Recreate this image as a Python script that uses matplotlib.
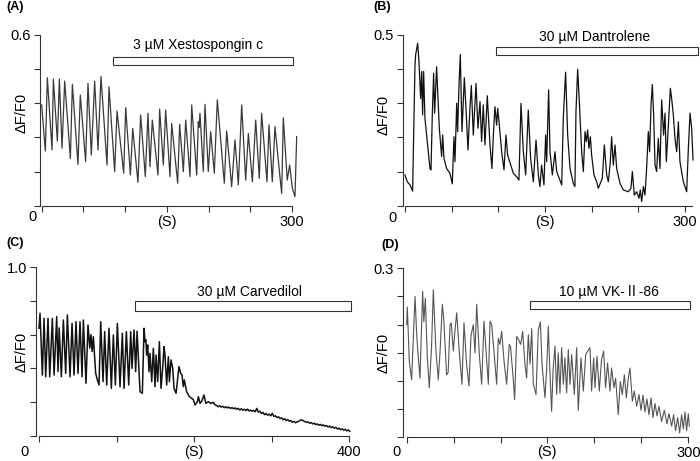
import matplotlib.pyplot as plt
from matplotlib.patches import Rectangle

plt.rcParams['font.family'] = ['Liberation Sans', 'Noto Sans CJK SC', 'DejaVu Sans']

# (time s, dF/F0): peaks, troughs and shoulders
trace_a = [
    (0, 0.354), (4.4, 0.192), (6.8, 0.450), (12.4, 0.196), (14.0, 0.445), (18.8, 0.227),
    (21.2, 0.445), (24.4, 0.202), (27.6, 0.438), (34.4, 0.166), (36.8, 0.427), (43.5, 0.145),
    (46.3, 0.389), (52.7, 0.155), (55.5, 0.430), (59.5, 0.178), (63.5, 0.438), (67.5, 0.196),
    (71.1, 0.454), (78.3, 0.143), (80.7, 0.418), (87.5, 0.120), (90.3, 0.333), (98.3, 0.114),
    (100.7, 0.345), (106.3, 0.108), (109.1, 0.272), (115.4, 0.082), (118.6, 0.319), (124.2, 0.102),
    (127.4, 0.325), (129.8, 0.137), (132.6, 0.301), (139.4, 0.108), (141.4, 0.340), (145.8, 0.143),
    (148.6, 0.336), (153.8, 0.102), (155.8, 0.289), (163.0, 0.079), (165.4, 0.286), (169.8, 0.120),
    (172.6, 0.301), (177.8, 0.102), (179.8, 0.354), (185.8, 0.108), (187.7, 0.295), (188.6, 0.275),
    (189.7, 0.325), (193.7, 0.120), (195.7, 0.356), (199.7, 0.120), (202.5, 0.260), (206.9, 0.114),
    (210.5, 0.372), (218.9, 0.079), (221.7, 0.263), (227.7, 0.067), (231.7, 0.231), (235.7, 0.073),
    (239.7, 0.354), (244.5, 0.090), (247.7, 0.254), (252.5, 0.084), (256.5, 0.301), (260.8, 0.096),
    (263.6, 0.325), (270.0, 0.084), (272.4, 0.284), (276.4, 0.084), (279.6, 0.278), (287.6, 0.043),
    (289.6, 0.309), (294.3, 0.090), (297.2, 0.143), (300.5, 0.060), (303.6, 0.032), (305.6, 0.243),
]

trace_b = [
    (0, 0.090), (2.5, 0.070), (5.4, 0.061), (8.2, 0.043), (10.7, 0.407), (11.4, 0.441),
    (13.6, 0.476), (15.0, 0.422), (16.8, 0.314), (17.9, 0.393), (18.9, 0.266), (20.0, 0.393),
    (21.4, 0.256), (26.8, 0.109), (27.9, 0.105), (29.3, 0.266), (30.7, 0.388), (31.8, 0.271),
    (33.9, 0.407), (36.8, 0.227), (39.3, 0.144), (40.4, 0.207), (41.8, 0.139), (44.6, 0.109),
    (48.2, 0.095), (50.7, 0.064), (52.5, 0.202), (53.6, 0.129), (55.4, 0.300), (56.4, 0.217),
    (57.9, 0.354), (59.3, 0.443), (61.1, 0.217), (63.6, 0.375), (65.4, 0.285), (67.5, 0.163),
    (69.6, 0.285), (71.1, 0.352), (73.2, 0.207), (76.1, 0.358), (78.2, 0.227), (80.4, 0.305),
    (82.1, 0.188), (83.9, 0.295), (85.7, 0.178), (88.2, 0.322), (91.1, 0.178), (93.2, 0.109),
    (94.6, 0.202), (96.4, 0.290), (98.2, 0.236), (99.3, 0.285), (101.1, 0.236), (103.6, 0.158),
    (106.1, 0.105), (108.2, 0.207), (110.0, 0.148), (116.1, 0.095), (119.6, 0.085), (122.1, 0.075),
    (124.3, 0.300), (126.8, 0.158), (129.3, 0.090), (132.1, 0.280), (134.6, 0.139), (137.5, 0.070),
    (140.4, 0.192), (142.9, 0.090), (144.6, 0.056), (146.4, 0.119), (148.9, 0.061), (150.7, 0.207),
    (151.8, 0.129), (153.9, 0.339), (155.4, 0.158), (157.9, 0.090), (160.7, 0.158), (162.5, 0.100),
    (167.9, 0.061), (169.6, 0.256), (172.1, 0.391), (174.3, 0.207), (176.8, 0.109), (180.4, 0.065),
    (182.1, 0.056), (183.2, 0.275), (185.0, 0.400), (186.8, 0.305), (189.3, 0.158), (191.1, 0.100),
    (192.9, 0.217), (194.3, 0.188), (195.7, 0.222), (197.1, 0.168), (198.6, 0.202), (200.0, 0.148),
    (202.5, 0.090), (205.4, 0.070), (207.1, 0.051), (211.4, 0.080), (213.6, 0.178), (216.1, 0.090),
    (217.9, 0.070), (220.0, 0.129), (221.4, 0.202), (223.2, 0.119), (225.0, 0.178), (226.8, 0.109),
    (230.4, 0.065), (233.9, 0.046), (239.3, 0.041), (242.1, 0.051), (243.6, 0.100), (245.7, 0.031),
    (248.2, 0.041), (250.7, 0.022), (252.1, 0.046), (253.6, 0.012), (255.4, 0.056), (257.1, 0.031),
    (258.9, 0.109), (260.7, 0.217), (262.1, 0.158), (263.6, 0.295), (265.0, 0.355), (266.4, 0.266),
    (267.9, 0.119), (269.6, 0.100), (271.4, 0.197), (273.2, 0.109), (275.0, 0.310), (277.1, 0.207),
    (278.6, 0.271), (280.0, 0.129), (282.1, 0.231), (284.3, 0.344), (285.7, 0.314), (287.5, 0.266),
    (289.3, 0.197), (291.1, 0.158), (292.9, 0.246), (294.6, 0.129), (298.2, 0.070), (301.8, 0.041),
    (303.6, 0.168), (305.4, 0.271), (307.1, 0.227), (308.6, 0.134),
]

trace_c = [
    (0, 0.638), (1.3, 0.727), (4.3, 0.360), (6.5, 0.697), (8.6, 0.350), (11.6, 0.697),
    (13.8, 0.350), (17.2, 0.697), (19.4, 0.360), (22.8, 0.707), (24.5, 0.380), (26.0, 0.640),
    (28.8, 0.350), (31.4, 0.687), (34.4, 0.370), (36.6, 0.717), (40.0, 0.350), (42.6, 0.667),
    (45.2, 0.360), (47.7, 0.677), (50.3, 0.370), (52.9, 0.677), (55.5, 0.350), (57.2, 0.687),
    (60.6, 0.311), (63.2, 0.657), (65.5, 0.520), (67.0, 0.600), (68.5, 0.500), (70.1, 0.588),
    (73.1, 0.370), (75.3, 0.331), (77.4, 0.301), (79.6, 0.677), (82.6, 0.321), (84.7, 0.618),
    (87.3, 0.301), (90.3, 0.638), (93.3, 0.281), (95.9, 0.598), (98.5, 0.301), (101.1, 0.667),
    (104.5, 0.291), (107.5, 0.608), (109.7, 0.281), (112.7, 0.618), (115.7, 0.301), (118.3, 0.618),
    (120.0, 0.400), (122.6, 0.628), (124.7, 0.380), (126.5, 0.620), (130.3, 0.261), (133.3, 0.252),
    (134.6, 0.479), (135.5, 0.638), (136.8, 0.558), (137.8, 0.570), (138.9, 0.479), (140.2, 0.539),
    (141.9, 0.380), (143.2, 0.489), (145.4, 0.321), (147.5, 0.519), (149.7, 0.291), (151.0, 0.479),
    (153.1, 0.321), (155.3, 0.558), (157.4, 0.281), (159.5, 0.400), (161.3, 0.529), (162.5, 0.480),
    (164.7, 0.301), (166.9, 0.469), (168.2, 0.321), (170.3, 0.450), (172.5, 0.400), (174.2, 0.281),
    (176.8, 0.252), (178.5, 0.321), (180.6, 0.410), (182.8, 0.370), (184.5, 0.360), (186.2, 0.291),
    (187.5, 0.331), (190.5, 0.261), (194.0, 0.232), (197.0, 0.222), (199.0, 0.215), (201.3, 0.182),
    (204.3, 0.202), (205.6, 0.232), (207.7, 0.192), (210.0, 0.205), (212.9, 0.242), (215.1, 0.192),
    (218.5, 0.202), (221.5, 0.192), (225.0, 0.198), (227.0, 0.184), (229, 0.180), (231, 0.172),
    (233, 0.178), (235, 0.170), (237, 0.175), (239, 0.166), (241, 0.172), (243, 0.165),
    (245, 0.170), (247, 0.162), (249, 0.167), (251, 0.160), (253, 0.165), (255, 0.157),
    (257, 0.162), (259, 0.153), (261, 0.160), (263, 0.151), (265, 0.157), (267, 0.149),
    (269, 0.158), (271, 0.147), (273, 0.152), (275, 0.145), (277, 0.150), (279, 0.142),
    (281, 0.162), (283, 0.140), (285, 0.145), (287, 0.132), (289, 0.138), (291, 0.125),
    (293, 0.132), (295, 0.122), (297, 0.128), (299, 0.118), (301, 0.133), (303, 0.115),
    (305, 0.118), (307, 0.108), (309, 0.112), (311, 0.102), (313, 0.106), (315, 0.095),
    (317, 0.100), (319, 0.090), (321, 0.095), (323, 0.086), (325, 0.090), (327, 0.080),
    (329, 0.085), (331, 0.077), (333, 0.082), (335, 0.085), (337, 0.092), (339, 0.094),
    (341, 0.088), (343, 0.084), (345, 0.079), (347, 0.082), (349, 0.074), (351, 0.078),
    (353, 0.070), (355, 0.074), (357, 0.066), (359, 0.070), (361, 0.062), (363, 0.067),
    (365, 0.060), (367, 0.064), (369, 0.056), (371, 0.060), (373, 0.052), (375, 0.057),
    (377, 0.048), (379, 0.053), (381, 0.045), (383, 0.049), (385, 0.040), (387, 0.045),
    (389, 0.036), (391, 0.041), (393, 0.033), (395, 0.038), (397, 0.029), (399, 0.034),
    (401, 0.026),
]

trace_d = [
    (0, 0.200), (0.7, 0.231), (2.8, 0.135), (5.3, 0.102), (8.9, 0.250), (10.7, 0.182),
    (12.0, 0.150), (14.2, 0.105), (17.0, 0.259), (18.3, 0.205), (19.9, 0.247), (22.0, 0.141),
    (24.1, 0.088), (26.5, 0.160), (28.4, 0.262), (31.2, 0.153), (33.7, 0.102), (35.5, 0.150),
    (38.0, 0.236), (39.5, 0.210), (42.6, 0.111), (44.2, 0.115), (46.2, 0.200), (47.5, 0.203),
    (49.7, 0.153), (51.5, 0.190), (53.3, 0.221), (56.0, 0.153), (58.9, 0.094), (61.1, 0.203),
    (63.8, 0.130), (66.4, 0.091), (68.5, 0.180), (71.0, 0.200), (72.8, 0.150), (74.6, 0.236),
    (77.3, 0.150), (79.9, 0.094), (82.4, 0.206), (84.6, 0.153), (87.0, 0.094), (88.8, 0.206),
    (90.6, 0.200), (92.7, 0.158), (95.9, 0.094), (97.6, 0.176), (99.3, 0.165), (101.2, 0.188),
    (103.8, 0.134), (106.5, 0.094), (109.3, 0.165), (110.7, 0.160), (113.6, 0.102), (115.0, 0.067),
    (117.2, 0.179), (119.0, 0.174), (121.5, 0.165), (123.6, 0.188), (126.0, 0.130), (127.8, 0.105),
    (129.6, 0.182), (131.4, 0.130), (133.2, 0.193), (134.9, 0.094), (137.8, 0.076), (140.2, 0.190),
    (142.4, 0.205), (144.2, 0.130), (147.3, 0.070), (149.1, 0.120), (150.9, 0.197), (152.3, 0.130),
    (154.4, 0.046), (156.0, 0.120), (158.0, 0.162), (159.8, 0.076), (161.5, 0.150), (163.3, 0.078),
    (165.1, 0.159), (166.9, 0.094), (168.6, 0.141), (170.4, 0.079), (172.2, 0.156), (174.0, 0.094),
    (175.8, 0.147), (178.6, 0.076), (181.1, 0.159), (182.8, 0.048), (185.7, 0.141), (188.2, 0.082),
    (190.7, 0.147), (192.8, 0.153), (195.3, 0.159), (197.0, 0.082), (199.2, 0.141), (200.6, 0.088),
    (202.7, 0.144), (205.2, 0.082), (207.6, 0.138), (209.8, 0.153), (211.9, 0.088), (214.0, 0.132),
    (216.6, 0.082), (218.3, 0.123), (220.8, 0.088), (222.6, 0.105), (225.4, 0.040), (227.6, 0.099),
    (229.7, 0.076), (231.9, 0.111), (234.0, 0.070), (236.1, 0.105), (237.9, 0.123), (240.4, 0.064),
    (242.5, 0.082), (245.0, 0.055), (247.5, 0.076), (249.6, 0.048), (251.8, 0.075), (253.9, 0.045),
    (256.0, 0.068), (258.1, 0.040), (260.3, 0.070), (262.4, 0.035), (264.5, 0.060), (266.7, 0.038),
    (268.8, 0.055), (271.6, 0.028), (274.5, 0.048), (277.3, 0.024), (279.4, 0.042), (282.3, 0.020),
    (284.4, 0.040), (286.5, 0.012), (288.7, 0.035), (290.8, 0.008), (292.9, 0.040), (294.7, 0.015),
    (296.5, 0.045), (298.2, 0.012), (300.0, 0.042), (301.1, 0.020),
]

panel_labels = ['(A)', '(B)', '(C)', '(D)']
drug_names = ['3 µM Xestospongin c', '30 µM Dantrolene', '30 µM Carvedilol', '10 µM VK-Ⅱ-86']
drug_spans = [(85.5, 301), (97.5, 314), (123.4, 402), (131.4, 301.8)]
y_tops = [0.6, 0.5, 1.0, 0.3]
y_steps = [0.12, 0.1, 0.2, 0.05]
x_ends = [300, 300, 400, 300]
x_steps = [50, 50, 100, 50]

W, H = 700, 461
fig = plt.figure(figsize=(7, 4.61), dpi=100)


def px_axes(left, top, right, bottom):
    return fig.add_axes([left / W, 1 - bottom / H, (right - left) / W, (bottom - top) / H])


def panel(ax, trace, i, color, lw, xlim, bar_y, text_xy, zero_off, s_x, s_off, spine_end):
    t, v = zip(*trace)
    ax.plot(t, v, color=color, lw=lw, clip_on=False)
    ax.set_xlim(*xlim)
    ax.set_ylim(0, y_tops[i])
    for s in ['top', 'right']:
        ax.spines[s].set_visible(False)
    for s in ['left', 'bottom']:
        ax.spines[s].set_linewidth(0.8)
        ax.spines[s].set_color('#333333')
    ax.spines['bottom'].set_bounds(0, spine_end)

    n_y = int(round(y_tops[i] / y_steps[i]))
    yt = [k * y_steps[i] for k in range(n_y + 1)]
    ax.set_yticks(yt)
    ax.set_yticklabels([''] * n_y + ['%.1f' % y_tops[i]])
    xt = list(range(0, x_ends[i] + 1, x_steps[i]))
    ax.set_xticks(xt)
    ax.set_xticklabels([''] * (len(xt) - 1) + [str(x_ends[i])])
    ax.tick_params(axis='both', length=4.5, width=0.8, color='#333333', labelsize=10.5, pad=2)

    ax.annotate('0', xy=(0, 0), xycoords='data', xytext=zero_off, textcoords='offset points',
                ha='center', va='center', fontsize=10.5, annotation_clip=False)
    ax.annotate('(S)', xy=(s_x, 0), xycoords='data', xytext=(0, s_off), textcoords='offset points',
                ha='center', va='center', fontsize=10.5, annotation_clip=False)

    t0, t1 = drug_spans[i]
    ax.add_patch(Rectangle((t0, bar_y[0]), t1 - t0, bar_y[1] - bar_y[0], facecolor='white',
                           edgecolor='#333333', lw=0.8, clip_on=False))
    ax.text(text_xy[0], text_xy[1], drug_names[i], ha='center', va='center', fontsize=10)


ax_a = px_axes(40, 35, 297, 205.7)
panel(ax_a, trace_a, 0, '#3a3a3a', 0.9, (-2, 306), (0.495, 0.523), (187, 0.565),
      (-6.8, -7.9), 150, -11.5, 300)

ax_b = px_axes(403, 35, 699, 205.7)
panel(ax_b, trace_b, 1, '#111111', 0.9, (-2.1, 315), (0.4415, 0.465), (203.6, 0.494),
      (-8.9, -9.1), 150, -11.5, 308)

ax_c = px_axes(36, 267.3, 350.6, 435.7)
panel(ax_c, trace_c, 2, '#111111', 1.1, (-3.9, 402), (0.741, 0.800), (272, 0.855),
      (-10.8, -11.5), 200, -11.5, 400)

ax_d = px_axes(403, 268.3, 691.1, 437.3)
panel(ax_d, trace_d, 3, '#555555', 0.8, (-3.9, 303), (0.228, 0.242), (215, 0.2585),
      (-7.2, -10.3), 149, -10.3, 300)

for lab, (px, py) in zip(panel_labels, [(15, 7), (381.7, 7), (15, 243.3), (390, 245)]):
    fig.text(px / W, 1 - py / H, lab, ha='center', va='center', fontsize=9, fontweight='bold')

for px, py in [(21.7, 113.3), (383.3, 115), (21.7, 351.7), (383.3, 353.3)]:
    fig.text(px / W, 1 - py / H, 'ΔF/F0', ha='center', va='center', rotation=90, fontsize=10.5)

fig.savefig('out.png', dpi=100)
